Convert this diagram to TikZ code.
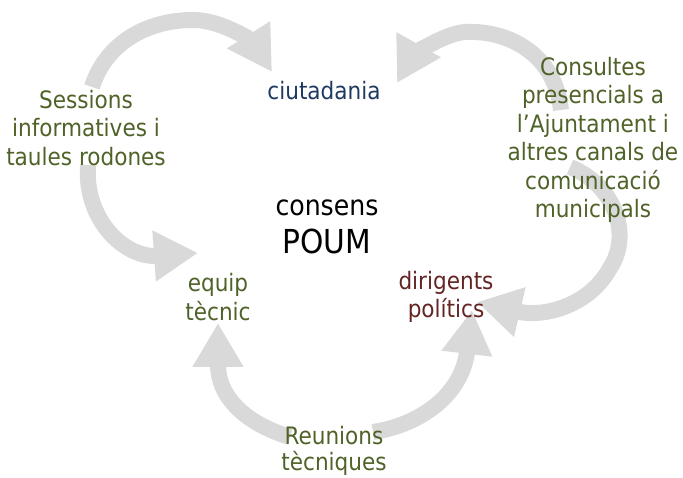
\documentclass[tikz,border=0pt]{standalone}
\usepackage{fontspec}
\setmainfont{DejaVu Sans Condensed}
\usetikzlibrary{arrows.meta,backgrounds}
\definecolor{verd}{HTML}{4F6228}
\definecolor{blau}{HTML}{1F3A60}
\definecolor{granat}{HTML}{632523}
\definecolor{gris}{HTML}{D9D9D9}
\tikzset{
  txt/.style = {align=center, inner sep=0pt, font=\fontsize{24}{28.5}\selectfont},
  txt_v/.style = {txt, text=verd},
  txt_b/.style = {txt, text=blau},
  txt_g/.style = {txt, text=granat},
  cicle/.style = {draw=gris, line width=16pt, -{Triangle[length=44pt,width=48pt]}}
}

\begin{document}
\begin{tikzpicture}[x=1pt,y=-1pt]
\useasboundingbox (0,0) rectangle (683,478);
% nodes
\node [txt_b] (ciut) at (324,91) {ciutadania};
\node [txt, font=\fontsize{28}{38}\selectfont] (poum) at (327,227) {consens\\{\fontsize{33}{38}\selectfont POUM}};
\node [txt_v] (equip) at (218,297) {equip\\tècnic};
\node [txt_g] (dirig) at (446,297) {dirigents\\polítics};
\node [txt_v] (sess) at (86,128) {Sessions\\informatives i\\taules rodones};
\node [txt_v] (cons) at (593,140) {Consultes\\presencials a\\l’Ajuntament i\\altres canals de\\comunicació\\municipals};
\node [txt_v, font=\fontsize{24}{26}\selectfont] (reun) at (334,451) {Reunions\\tècniques};
% arrows
\begin{pgfonlayer}{background}
\coordinate (sess_a) at (92,87);
\coordinate (sess_b) at (88,165);
\coordinate (cons_a) at (561,110);
\coordinate (cons_b) at (570,167);
\coordinate (reun_a) at (290,437);
\coordinate (reun_b) at (373,432);
\coordinate (ciut_l) at (272,72);
\coordinate (ciut_r) at (397,83);
\coordinate (equip_l) at (198,253);
\coordinate (equip_b) at (218,323);
\coordinate (dirig_r) at (477,302);
\coordinate (dirig_b) at (472,310);
\draw [cicle] (sess_a) .. controls (105,45) and (145,20) .. (193,20)
  .. controls (225,20) and (255,45) .. (ciut_l);
\draw [cicle] (sess_b) .. controls (84,220) and (125,258) .. (equip_l);
\draw [cicle] (cons_a) .. controls (555,55) and (510,30) .. (465,32)
  .. controls (440,34) and (410,60) .. (ciut_r);
\draw [cicle] (cons_b) .. controls (615,185) and (632,235) .. (610,268)
  .. controls (590,305) and (545,318) .. (dirig_r);
\draw [cicle] (reun_a) .. controls (250,425) and (218,400) .. (equip_b);
\draw [cicle] (reun_b) .. controls (420,425) and (462,395) .. (dirig_b);
\end{pgfonlayer}
\end{tikzpicture}
\end{document}
